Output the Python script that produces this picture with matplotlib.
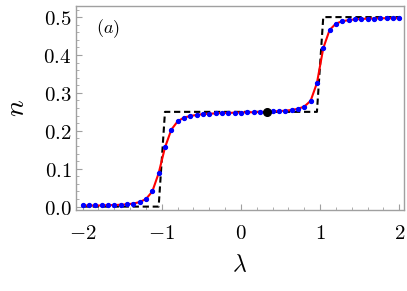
import numpy as np
import matplotlib
matplotlib.use("Agg")
import matplotlib.pyplot as plt
from matplotlib.ticker import FixedLocator, MultipleLocator, FixedFormatter

plt.rcParams["mathtext.fontset"] = "cm"

# grid of lambda values (step 0.08)
lam = [-2.00, -1.92, -1.84, -1.76, -1.68, -1.60, -1.52, -1.44, -1.36, -1.28,
       -1.20, -1.12, -1.04, -0.96, -0.88, -0.80, -0.72, -0.64, -0.56, -0.48,
       -0.40, -0.32, -0.24, -0.16, -0.08, 0.00, 0.08, 0.16, 0.24, 0.32,
       0.40, 0.48, 0.56, 0.64, 0.72, 0.80, 0.88, 0.96, 1.04, 1.12,
       1.20, 1.28, 1.36, 1.44, 1.52, 1.60, 1.68, 1.76, 1.84, 1.92, 2.00]

# density n(lambda)
n_vals = [0.003, 0.003, 0.003, 0.003, 0.004, 0.004, 0.005, 0.006, 0.008, 0.012,
          0.020, 0.040, 0.088, 0.156, 0.203, 0.225, 0.235, 0.239, 0.242, 0.244,
          0.245, 0.246, 0.247, 0.247, 0.248, 0.248, 0.249, 0.249, 0.250, 0.250,
          0.251, 0.252, 0.253, 0.255, 0.258, 0.264, 0.279, 0.326, 0.418, 0.466,
          0.483, 0.489, 0.492, 0.494, 0.495, 0.496, 0.496, 0.497, 0.497, 0.497,
          0.497]

# limiting step curve
n_step = [0.0] * 13 + [0.25] * 25 + [0.5] * 13

# highlighted point
pt_lam, pt_n = 0.33, 0.25

xticks = [-2, -1, 0, 1, 2]
xlabels = ["$-2$", "$-1$", "$0$", "$1$", "$2$"]
yticks = [0.0, 0.1, 0.2, 0.3, 0.4, 0.5]
ylabels = ["$0.0$", "$0.1$", "$0.2$", "$0.3$", "$0.4$", "$0.5$"]

fig = plt.figure(figsize=(4.07, 2.91), dpi=100)
ax = fig.add_axes([0.186, 0.278, 0.8066, 0.701])

ax.plot(lam, n_step, color="black", lw=1.5, dashes=(3, 1.8), zorder=2)
ax.plot(lam, n_vals, color="#ff0000", lw=1.5, zorder=3)
ax.plot(lam, n_vals, ls="none", marker="o", ms=2.8, color="#0000ff",
        mec="#0000ff", zorder=4)
ax.plot([pt_lam], [pt_n], ls="none", marker="o", ms=5.5, color="black", zorder=5)

ax.set_xlim(-2.088, 2.06)
ax.set_ylim(-0.0092, 0.529)

ax.xaxis.set_major_locator(FixedLocator(xticks))
ax.xaxis.set_major_formatter(FixedFormatter(xlabels))
ax.xaxis.set_minor_locator(MultipleLocator(0.2))
ax.yaxis.set_major_locator(FixedLocator(yticks))
ax.yaxis.set_major_formatter(FixedFormatter(ylabels))
ax.yaxis.set_minor_locator(MultipleLocator(0.02))

grey = "#a0a0a0"
for s in ax.spines.values():
    s.set_color(grey)
    s.set_linewidth(1.0)
ax.tick_params(which="both", direction="in", color=grey, top=False, right=False)
ax.tick_params(which="major", length=4, width=0.8, labelsize=15)
ax.tick_params(which="minor", length=2.2, width=0.6)
ax.tick_params(axis="x", which="major", pad=9)
ax.tick_params(axis="y", which="major", pad=3)

ax.set_xlabel(r"$\lambda$", fontsize=17, labelpad=7)
ax.set_ylabel(r"$n$", fontsize=20, labelpad=10)

ax.text(0.098, 0.89, r"$(a)$", transform=ax.transAxes, fontsize=13,
        ha="center", va="center")

fig.savefig("out.png", dpi=100)
